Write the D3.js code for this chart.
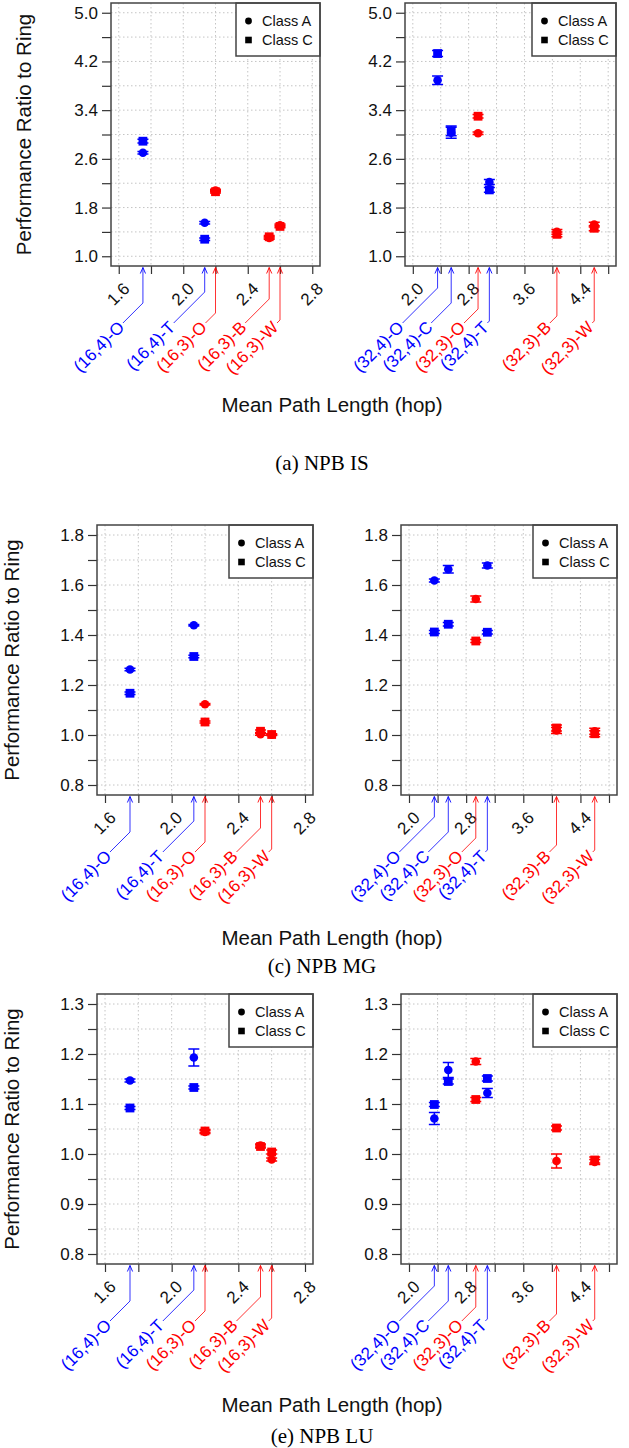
<!DOCTYPE html>
<html>
<head>
<meta charset="utf-8">
<script src="https://cdn.jsdelivr.net/npm/d3@7"></script>
<style>
  body { margin: 0; background: #fff; }
  svg { display: block; }
</style>
</head>
<body>
<svg id="fig" width="629" height="1448"></svg>
<script>
// Network configurations "(nodes,degree)-topology" and their mean path length (hop)
const nets16 = ["(16,4)-O", "(16,4)-T", "(16,3)-O", "(16,3)-B", "(16,3)-W"];
const hops16 = [1.75, 2.133, 2.2, 2.533, 2.6];
const nets32 = ["(32,4)-O", "(32,4)-C", "(32,3)-O", "(32,4)-T", "(32,3)-B", "(32,3)-W"];
const hops32 = [2.355, 2.55, 2.935, 3.097, 4.065, 4.6];

// NPB IS: performance ratio to ring (mean and error half-width)
const isA16 = [2.70, 1.55, 2.08, 1.30, 1.51];
const isA16Err = [0.02, 0.02, 0.02, 0.02, 0.02];
const isC16 = [2.89, 1.28, 2.06, 1.32, 1.49];
const isC16Err = [0.03, 0.02, 0.02, 0.02, 0.02];
const isA32 = [3.89, 3.03, 3.02, 2.22, 1.40, 1.52];
const isA32Err = [0.07, 0.09, 0.02, 0.04, 0.04, 0.04];
const isC32 = [4.33, 3.06, 3.30, 2.09, 1.36, 1.46];
const isC32Err = [0.05, 0.08, 0.03, 0.04, 0.04, 0.04];

// NPB MG
const mgA16 = [1.262, 1.439, 1.123, 1.003, 1.001];
const mgA16Err = [0.005, 0.003, 0.003, 0.004, 0.003];
const mgC16 = [1.167, 1.314, 1.052, 1.015, 1.002];
const mgC16Err = [0.005, 0.005, 0.004, 0.005, 0.003];
const mgA32 = [1.618, 1.663, 1.544, 1.678, 1.018, 1.015];
const mgA32Err = [0.006, 0.015, 0.012, 0.01, 0.012, 0.012];
const mgC32 = [1.412, 1.443, 1.376, 1.411, 1.028, 1.005];
const mgC32Err = [0.006, 0.007, 0.006, 0.007, 0.012, 0.012];

// NPB LU
const luA16 = [1.147, 1.193, 1.044, 1.017, 0.989];
const luA16Err = [0.003, 0.017, 0.003, 0.003, 0.003];
const luC16 = [1.092, 1.133, 1.046, 1.015, 1.004];
const luC16Err = [0.003, 0.003, 0.003, 0.003, 0.004];
const luA32 = [1.071, 1.168, 1.185, 1.122, 0.986, 0.984];
const luA32Err = [0.012, 0.015, 0.006, 0.009, 0.014, 0.005];
const luC32 = [1.099, 1.145, 1.109, 1.151, 1.052, 0.988];
const luC32Err = [0.004, 0.005, 0.004, 0.005, 0.004, 0.006];

// Axis ticks and labels
const x16Ticks = [1.6, 1.8, 2.0, 2.2, 2.4, 2.6, 2.8];
const x16Labels = ["1.6", "2.0", "2.4", "2.8"];
const x32Ticks = [2.0, 2.4, 2.8, 3.2, 3.6, 4.0, 4.4, 4.8];
const x32Labels = ["2.0", "2.8", "3.6", "4.4"];
const isYTicks = [1.0, 1.4, 1.8, 2.2, 2.6, 3.0, 3.4, 3.8, 4.2, 4.6, 5.0];
const isYLabels = ["1.0", "1.8", "2.6", "3.4", "4.2", "5.0"];
const mgYTicks = [0.8, 0.9, 1.0, 1.1, 1.2, 1.3, 1.4, 1.5, 1.6, 1.7, 1.8];
const mgYLabels = ["0.8", "1.0", "1.2", "1.4", "1.6", "1.8"];
const luYTicks = [0.8, 0.85, 0.9, 0.95, 1.0, 1.05, 1.1, 1.15, 1.2, 1.25, 1.3];
const luYLabels = ["0.8", "0.9", "1.0", "1.1", "1.2", "1.3"];

const legendLabels = ["Class A", "Class C"];
const xTitle = "Mean Path Length (hop)";
const yTitle = "Performance Ratio to Ring";

// ---- styling / layout ----
const BLUE = "#0000ff", RED = "#ff0000";
const SANS = "'Liberation Sans', Arial, sans-serif";
const SERIF = "'Liberation Serif', 'Times New Roman', serif";
const TICK_FS = 17;
// horizontal shift of each label's end from its arrow, px
const shift16 = [20, 31, 10, 24, 3];
const shift32 = [35, 20, 14, 2, 7, 2];

const rows = [
  { caption: "(a) NPB IS", yDom: [1, 5], yTicks: isYTicks, yLabels: isYLabels,
    top: 3, bottom: 266, boxes: [[111, 320], [405, 616]], yTitleX: 23, xTitleY: 404, capY: 463,
    data: [[isA16, isA16Err, isC16, isC16Err], [isA32, isA32Err, isC32, isC32Err]] },
  { caption: "(c) NPB MG", yDom: [0.8, 1.8], yTicks: mgYTicks, yLabels: mgYLabels,
    top: 525, bottom: 795, boxes: [[97, 313], [401, 617]], yTitleX: 11, xTitleY: 937, capY: 966,
    data: [[mgA16, mgA16Err, mgC16, mgC16Err], [mgA32, mgA32Err, mgC32, mgC32Err]] },
  { caption: "(e) NPB LU", yDom: [0.8, 1.3], yTicks: luYTicks, yLabels: luYLabels,
    top: 994, bottom: 1264, boxes: [[97, 313], [401, 617]], yTitleX: 11, xTitleY: 1404, capY: 1436,
    data: [[luA16, luA16Err, luC16, luC16Err], [luA32, luA32Err, luC32, luC32Err]] }
];

const panelsX = [
  { nets: nets16, hops: hops16, dom: [1.6, 2.8], ticks: x16Ticks, labels: x16Labels, shift: shift16 },
  { nets: nets32, hops: hops32, dom: [2.0, 4.8], ticks: x32Ticks, labels: x32Labels, shift: shift32 }
];

const pad = d => { const e = (d[1] - d[0]) * 0.04; return [d[0] - e, d[1] + e]; };
const colorOf = name => (+name.match(/,(\d)\)/)[1] === 4 ? BLUE : RED);

const svg = d3.select("#fig");

rows.forEach(row => {
  const y = d3.scaleLinear().domain(pad(row.yDom)).range([row.bottom, row.top]);

  row.boxes.forEach((bx, pi) => {
    const P = panelsX[pi];
    const x = d3.scaleLinear().domain(pad(P.dom)).range([bx[0], bx[1]]);
    const g = svg.append("g");

    // dotted grid
    g.selectAll(".gx").data(P.ticks).join("line")
      .attr("x1", d => x(d)).attr("x2", d => x(d))
      .attr("y1", row.top).attr("y2", row.bottom)
      .attr("stroke", "#c4c4c4").attr("stroke-width", 1).attr("stroke-dasharray", "1.5,2.5");
    g.selectAll(".gy").data(row.yTicks).join("line")
      .attr("x1", bx[0]).attr("x2", bx[1])
      .attr("y1", d => y(d)).attr("y2", d => y(d))
      .attr("stroke", "#c4c4c4").attr("stroke-width", 1).attr("stroke-dasharray", "1.5,2.5");

    // y axis
    const yAxis = d3.axisLeft(y).tickValues(row.yTicks).tickSize(9).tickPadding(4)
      .tickFormat(d => { const s = d3.format(".1f")(d); return row.yLabels.includes(s) && Math.abs(+s - d) < 1e-9 ? s : ""; });
    const ya = g.append("g").attr("transform", `translate(${bx[0]},0)`).call(yAxis);
    ya.select(".domain").remove();
    ya.selectAll("line").attr("stroke", "#333").attr("stroke-width", 1.2);
    ya.selectAll("text").attr("font-family", SANS).attr("font-size", TICK_FS).attr("fill", "#111");

    // x axis (labels drawn rotated below)
    const xAxis = d3.axisBottom(x).tickValues(P.ticks).tickSize(8).tickFormat("");
    const xa = g.append("g").attr("transform", `translate(0,${row.bottom})`).call(xAxis);
    xa.select(".domain").remove();
    xa.selectAll("line").attr("stroke", "#333").attr("stroke-width", 1.2);
    g.selectAll(".xl").data(P.labels).join("text")
      .attr("transform", d => `translate(${x(+d) + 8},${row.bottom + 20}) rotate(-45)`)
      .attr("text-anchor", "end").attr("dominant-baseline", "central")
      .attr("font-family", SANS).attr("font-size", TICK_FS).attr("fill", "#111")
      .text(d => d);

    // network labels with leader arrows
    P.nets.forEach((name, i) => {
      const px = x(P.hops[i]);
      const col = colorOf(name);
      const tipY = row.bottom + 1.5, endY = row.bottom + 57, dx = P.shift[i];
      g.append("path")
        .attr("d", `M${px},${tipY}V${endY - dx}L${px - dx},${endY}`)
        .attr("fill", "none").attr("stroke", col).attr("stroke-width", 1).attr("stroke-opacity", 0.8);
      g.append("path")
        .attr("d", `M${px - 2.6},${tipY + 6}L${px},${tipY}L${px + 2.6},${tipY + 6}`)
        .attr("fill", "none").attr("stroke", col).attr("stroke-width", 1).attr("stroke-opacity", 0.9);
      g.append("text")
        .attr("transform", `translate(${px - dx - 1.5},${endY + 1.5}) rotate(-45)`)
        .attr("text-anchor", "end").attr("dominant-baseline", "central")
        .attr("font-family", SANS).attr("font-size", TICK_FS).attr("fill", col)
        .text(name);
    });

    // error bars and points
    const [aVal, aErr, cVal, cErr] = row.data[pi];
    const drawErr = (vals, errs) => {
      vals.forEach((v, i) => {
        const px = x(P.hops[i]), col = colorOf(P.nets[i]);
        const y1 = y(v - errs[i]), y2 = y(v + errs[i]);
        g.append("path")
          .attr("d", `M${px},${y1}V${y2}M${px - 5.5},${y1}H${px + 5.5}M${px - 5.5},${y2}H${px + 5.5}`)
          .attr("fill", "none").attr("stroke", col).attr("stroke-width", 1.5);
      });
    };
    drawErr(aVal, aErr);
    drawErr(cVal, cErr);
    g.selectAll(".ca").data(aVal).join("circle")
      .attr("cx", (d, i) => x(P.hops[i])).attr("cy", d => y(d)).attr("r", 4.3)
      .attr("fill", (d, i) => colorOf(P.nets[i]));
    g.selectAll(".sc").data(cVal).join("rect")
      .attr("x", (d, i) => x(P.hops[i]) - 4.4).attr("y", d => y(d) - 4.4)
      .attr("width", 8.8).attr("height", 8.8)
      .attr("fill", (d, i) => colorOf(P.nets[i]));

    // legend
    const lw = 84, lh = 53, lx = bx[1] - lw, ly = row.top;
    g.append("rect").attr("x", lx).attr("y", ly).attr("width", lw).attr("height", lh)
      .attr("fill", "#fff").attr("stroke", "#444").attr("stroke-width", 1.5);
    legendLabels.forEach((lab, k) => {
      const cy = ly + 18 + k * 19;
      if (k === 0) g.append("circle").attr("cx", lx + 12.5).attr("cy", cy).attr("r", 3.4).attr("fill", "#000");
      else g.append("rect").attr("x", lx + 9.2).attr("y", cy - 3.3).attr("width", 6.6).attr("height", 6.6).attr("fill", "#000");
      g.append("text").attr("x", lx + 26).attr("y", cy).attr("dominant-baseline", "central")
        .attr("font-family", SANS).attr("font-size", 14.5).attr("fill", "#111").text(lab);
    });

    // plot frame
    g.append("rect").attr("x", bx[0]).attr("y", row.top)
      .attr("width", bx[1] - bx[0]).attr("height", row.bottom - row.top)
      .attr("fill", "none").attr("stroke", "#444").attr("stroke-width", 1.5);
  });

  // y-axis title on the left panel
  const yc = (row.top + row.bottom) / 2;
  svg.append("text")
    .attr("transform", `translate(${row.yTitleX},${yc}) rotate(-90)`)
    .attr("text-anchor", "middle").attr("dominant-baseline", "central")
    .attr("font-family", SANS).attr("font-size", 20.5).attr("fill", "#111").text(yTitle);

  // x-axis title and caption
  svg.append("text").attr("x", 332).attr("y", row.xTitleY)
    .attr("text-anchor", "middle").attr("dominant-baseline", "central")
    .attr("font-family", SANS).attr("font-size", 20.5).attr("fill", "#111").text(xTitle);
  svg.append("text").attr("x", 322).attr("y", row.capY)
    .attr("text-anchor", "middle").attr("dominant-baseline", "central")
    .attr("font-family", SERIF).attr("font-size", 21).attr("fill", "#000").text(row.caption);
});
</script>
</body>
</html>
